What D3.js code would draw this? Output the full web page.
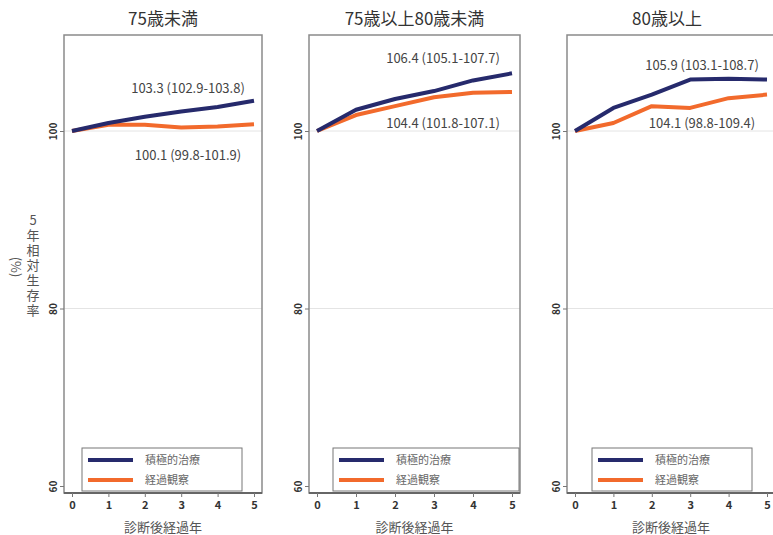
<!DOCTYPE html>
<html>
<head>
<meta charset="utf-8">
<script src="https://cdn.jsdelivr.net/npm/d3@7"></script>
<style>
  body { margin: 0; background: #fff; }
  svg text { font-family: "Noto Sans CJK JP", "Noto Sans", sans-serif; }
</style>
</head>
<body>
<svg id="chart" width="773" height="535"></svg>
<script>
(function(){
// data
var years = [0, 1, 2, 3, 4, 5];
var panelTitles = ["75歳未満", "75歳以上80歳未満", "80歳以上"];
var seriesNames = ["積極的治療", "経過観察"];
var activeTx = [
  [100, 100.9, 101.6, 102.2, 102.7, 103.4],
  [100, 102.4, 103.6, 104.5, 105.7, 106.5],
  [100, 102.6, 104.1, 105.8, 105.9, 105.8]
];
var watchful = [
  [100, 100.7, 100.7, 100.4, 100.5, 100.75],
  [100, 101.8, 102.8, 103.8, 104.3, 104.4],
  [100, 100.9, 102.8, 102.6, 103.7, 104.1]
];
var upperLabels = ["103.3 (102.9-103.8)", "106.4 (105.1-107.7)", "105.9 (103.1-108.7)"];
var lowerLabels = ["100.1 (99.8-101.9)", "104.4 (101.8-107.1)", "104.1 (98.8-109.4)"];
var yTicks = [60, 80, 100];

var colors = ["#262a6c", "#f26a2c"];

// layout
var top = 35, bottom = 493;
var panels = [
  {left: 64, right: 262, labX: [188, 188], labY: [93, 160], legL: 82, legR: 242},
  {left: 309, right: 520, labX: [443, 443], labY: [63, 128], legL: 333, legR: 519},
  {left: 567, right: 775, labX: [702, 702], labY: [70, 128], legL: 592, legR: 752}
];

var svg = d3.select('#chart');

var yScale = d3.scaleLinear()
  .domain([60, 100])
  .range([486, 131]);

panels.forEach(function(p, k){
  var g = svg.append('g');

  var xScale = d3.scaleLinear()
    .domain([0, 5])
    .range([p.left + 8, p.right - 8]);

  // gridlines
  g.selectAll('.grid').data(yTicks.slice(1)).enter().append('line')
    .attr('x1', p.left).attr('x2', p.right)
    .attr('y1', function(d){ return yScale(d); })
    .attr('y2', function(d){ return yScale(d); })
    .attr('stroke', '#e4e4e4').attr('stroke-width', 1);

  // frame
  g.append('rect')
    .attr('x', p.left).attr('y', top)
    .attr('width', p.right - p.left).attr('height', bottom - top)
    .attr('fill', 'none').attr('stroke', '#8a8a8a').attr('stroke-width', 1.5);

  // y axis
  var yAxis = d3.axisLeft(yScale).tickValues(yTicks).tickSize(4).tickPadding(3);
  var ya = g.append('g').attr('transform', 'translate(' + p.left + ',0)').call(yAxis);
  ya.select('.domain').remove();
  ya.selectAll('line').attr('stroke', '#777');
  ya.selectAll('text')
    .attr('x', 0).attr('dy', '0.35em')
    .attr('transform', 'translate(-11,0) rotate(-90)')
    .attr('text-anchor', 'middle')
    .attr('fill', '#333').style('font-size', '10px').style('font-weight', 'bold');

  // x axis
  var xAxis = d3.axisBottom(xScale).tickValues(years).tickFormat(d3.format('d'))
    .tickSize(4).tickPadding(4);
  var xa = g.append('g').attr('transform', 'translate(0,' + bottom + ')').call(xAxis);
  xa.select('.domain').attr('stroke', '#666').attr('stroke-width', 2)
    .attr('d', 'M' + p.left + ',0H' + p.right);
  xa.selectAll('line').attr('stroke', '#777');
  xa.selectAll('text').attr('fill', '#333').style('font-size', '11px').style('font-weight', 'bold');

  g.append('text')
    .attr('x', (p.left + p.right) / 2).attr('y', 532)
    .attr('text-anchor', 'middle').attr('fill', '#555')
    .style('font-size', '13px')
    .text('診断後経過年');

  // title
  g.append('text')
    .attr('x', (p.left + p.right) / 2 + (k == 2 ? -4 : 0)).attr('y', 25)
    .attr('text-anchor', 'middle').attr('fill', '#333')
    .style('font-size', '17px')
    .text(panelTitles[k]);

  // lines
  var lineGen = d3.line()
    .x(function(d, i){ return xScale(years[i]); })
    .y(function(d){ return yScale(d); });

  [watchful[k], activeTx[k]].forEach(function(s, j){
    g.append('path')
      .attr('d', lineGen(s))
      .attr('fill', 'none')
      .attr('stroke', colors[1 - j])
      .attr('stroke-width', 4)
      .attr('stroke-linejoin', 'round');
  });

  // value labels
  [upperLabels[k], lowerLabels[k]].forEach(function(t, j){
    g.append('text')
      .attr('x', p.labX[j]).attr('y', p.labY[j])
      .attr('text-anchor', 'middle').attr('fill', '#444')
      .style('font-size', '13px')
      .text(t);
  });

  // legend
  var lg = g.append('g');
  lg.append('rect')
    .attr('x', p.legL).attr('y', 448)
    .attr('width', p.legR - p.legL).attr('height', 43)
    .attr('fill', '#fff').attr('stroke', '#777').attr('stroke-width', 1);
  seriesNames.forEach(function(n, j){
    var yy = 460 + j * 20;
    lg.append('line')
      .attr('x1', p.legL + 6).attr('x2', p.legL + 51)
      .attr('y1', yy).attr('y2', yy)
      .attr('stroke', colors[j]).attr('stroke-width', 4);
    lg.append('text')
      .attr('x', p.legL + 63).attr('y', yy).attr('dy', '0.35em')
      .attr('fill', '#666').style('font-size', '11px')
      .text(n);
  });
});

// y axis title, written vertically
svg.append('text')
  .attr('x', 33).attr('y', 214)
  .style('writing-mode', 'vertical-rl')
  .style('text-orientation', 'upright')
  .style('letter-spacing', '2px')
  .attr('fill', '#555').style('font-size', '13px')
  .text('5年相対生存率');
svg.append('text')
  .attr('transform', 'translate(16,267) rotate(90)')
  .attr('text-anchor', 'middle').attr('dy', '0.35em')
  .attr('fill', '#555').style('font-size', '13px')
  .text('(%)');
})();
</script>
</body>
</html>
